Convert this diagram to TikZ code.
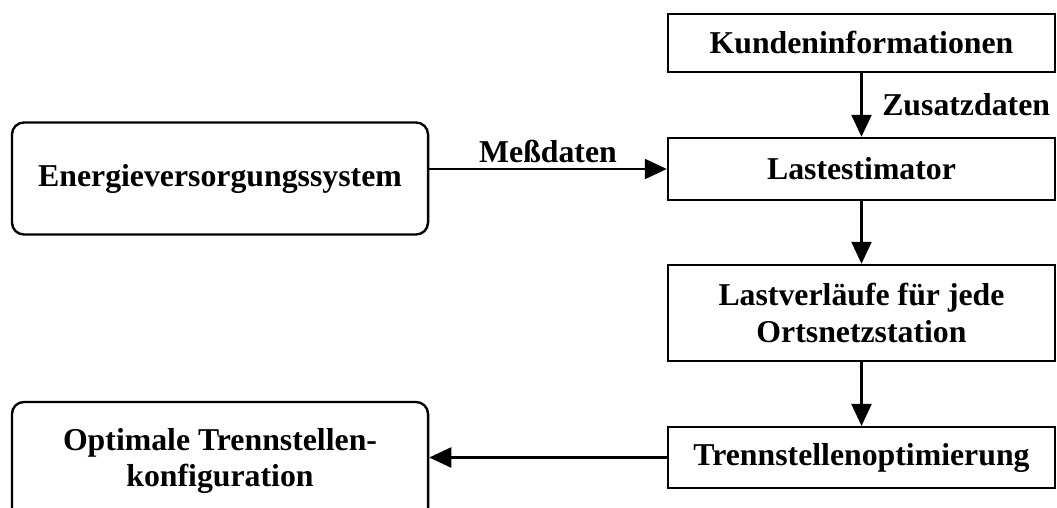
\documentclass[tikz,border=0pt]{standalone}
\usepackage{fontspec}
\setmainfont{Liberation Serif}
\usepackage{tikz}
\usetikzlibrary{arrows.meta}
\definecolor{ink}{HTML}{000000}
\tikzset{
  box/.style={draw=ink, line width=1.7pt, align=center, inner sep=0pt,
    minimum width=9.675cm, font=\bfseries\fontsize{22.6}{26.2}\selectfont},
  rbox/.style={box, rounded corners=0.3cm, minimum width=10.4cm, minimum height=2.8cm},
  flow/.style={draw=ink, line width=1.7pt, -{Triangle[length=0.55cm, width=0.5cm]}},
  lab/.style={font=\bfseries\fontsize{22.6}{26.2}\selectfont, inner sep=0pt},
}
\begin{document}
\begin{tikzpicture}[x=0.025cm, y=0.025cm]
  \useasboundingbox (0,0) rectangle (1057,507);

  \node[box, minimum height=1.45cm] (kunde) at (861.5,464) {Kundeninformationen};
  \node[box, minimum height=1.55cm] (est)   at (861.5,338) {Lastestimator};
  \node[box, minimum height=2.4cm]  (verl)  at (861.5,194) {Lastverläufe für jede\\Ortsnetzstation};
  \node[box, minimum height=1.52cm] (trenn) at (861.5,49.5) {Trennstellenoptimierung};

  \node[rbox] (ev)  at (220,328.5) {Energieversorgungssystem};
  \node[rbox, minimum height=2.95cm] (opt) at (220,46) {Optimale Trennstellen-\\konfiguration};

  \draw[flow] (kunde) -- (est);
  \draw[flow] (est) -- (verl);
  \draw[flow] (verl) -- (trenn);
  \draw[flow] (ev.east |- est) -- (est);
  \draw[flow] (trenn) -- (trenn -| opt.east);

  \node[lab, anchor=west] (zusatz) at (882,402) {Zusatzdaten};
  \node[lab, anchor=base] (mess) at (548,344) {Meßdaten};
\end{tikzpicture}
\end{document}
